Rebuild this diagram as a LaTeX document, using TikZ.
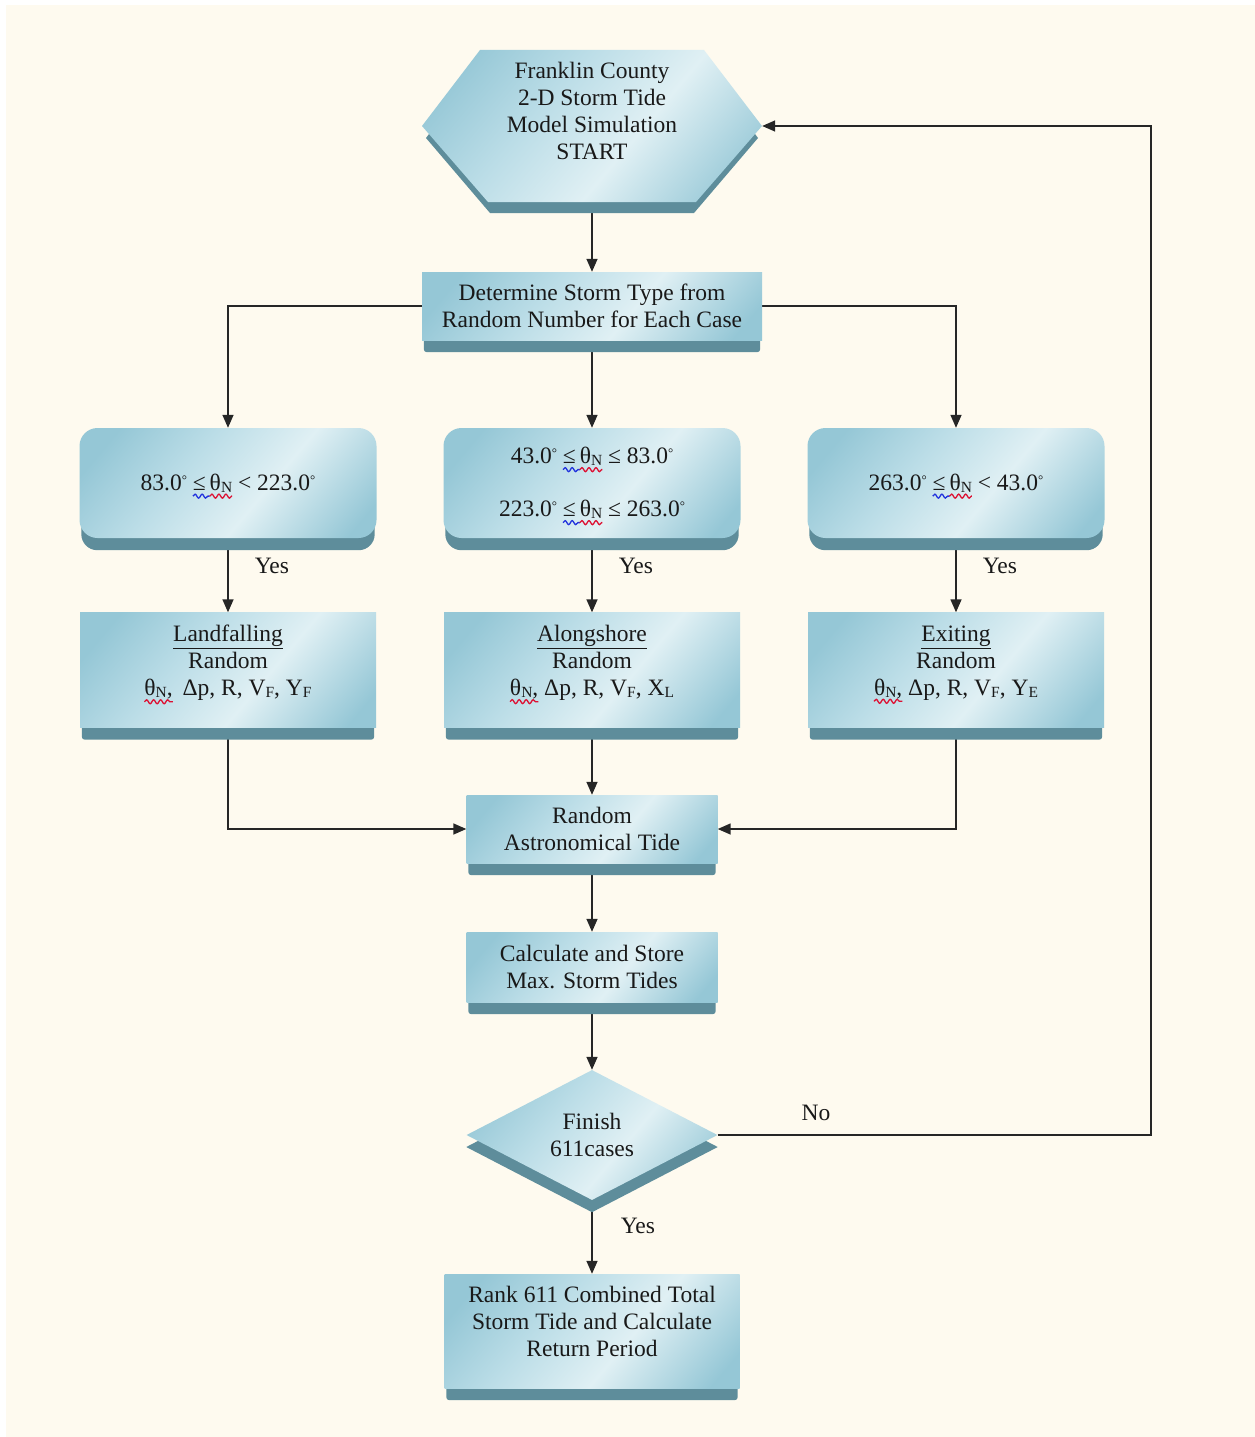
\documentclass[tikz,border=0pt]{standalone}
\usepackage{fontspec}
\setmainfont{Liberation Serif}
\usetikzlibrary{arrows.meta,shapes.geometric,calc,decorations.pathmorphing}
\pgfdeclarelayer{back}
\pgfdeclarelayer{lines}
\pgfdeclarelayer{ext}
\pgfsetlayers{back,lines,ext,main}
\definecolor{bgc}{HTML}{FEFAEF}
\definecolor{bDark}{HTML}{95C7D6}
\definecolor{bMid}{HTML}{BBDDE7}
\definecolor{bLight}{HTML}{E0F0F4}
\definecolor{extc}{HTML}{5E8D9B}
\definecolor{wblue}{HTML}{2233DD}
\definecolor{wred}{HTML}{DD1133}
\pgfdeclarehorizontalshading{boxsh}{100bp}{color(0bp)=(bDark); color(22bp)=(bDark); color(40bp)=(bMid); color(58bp)=(bLight); color(80bp)=(bDark); color(100bp)=(bDark)}
\newsavebox\wvbox
\newlength\wvlen
\newcommand\wave[2]{\sbox\wvbox{#2}\setlength\wvlen{\wd\wvbox}\leavevmode\rlap{\raisebox{-6pt}[0pt][0pt]{\tikz[x=1pt,y=1pt,sharp corners]{\useasboundingbox (0,0); \draw[#1, sharp corners, line width=1.3pt, decorate, decoration={snake, amplitude=2pt, segment length=7pt}] (0,0) -- (\wvlen,0);}}}\usebox\wvbox}
\newcommand\lsub[1]{\raisebox{-0.2ex}{\fontsize{15.5}{15.5}\selectfont #1}}
\newcommand\thN{θ\lsub{N}}
\newcommand\dg{\raisebox{0.55ex}{\fontsize{13}{13}\selectfont °}}
\newcommand\extrude[2]{\begin{pgfonlayer}{ext}\fill[extc, rounded corners=#2] ($(#1.north west)+(2,12)$) rectangle ($(#1.south east)+(-2,12)$);\end{pgfonlayer}}
\begin{document}
\begin{tikzpicture}[x=1pt,y=-1pt,
  every node/.style={font=\fontsize{23.5}{27}\selectfont, text=black!90},
  front/.style={shade, shading=boxsh, shading angle=-40, inner sep=0, align=center},
  rbox/.style={front, rectangle, minimum height=#1},
  rbox/.default=68,
  ubox/.style={front, rectangle, rounded corners=18, minimum width=297, minimum height=110},
  txt/.style={inner sep=0, align=center},
  yes/.style={anchor=west, inner sep=0, xshift=26pt},
  conn/.style={line width=1.5pt, draw=black!85},
  arr/.style={conn, -{Triangle[length=13pt,width=11pt]}}]
\useasboundingbox (0,0) rectangle (1255,1437);
\begin{pgfonlayer}{back}
\fill[white] (0,0) rectangle (1255,1437);
\fill[bgc] (6,5) rectangle (1255,1437);
\end{pgfonlayer}

% start hexagon
\begin{pgfonlayer}{ext}
\fill[extc] (484,61) -- (700,61) -- (758,138) -- (694,213) -- (490,213) -- (426,138) -- cycle;
\end{pgfonlayer}
\shade[shading=boxsh, shading angle=-40] (480,50) -- (704,50) -- (762,126) -- (696,202) -- (488,202) -- (422,126) -- cycle;
\node[inner sep=0, minimum width=340, minimum height=152] (start) at (592,126) {};
\node[txt] (starttxt) at (592,111) {Franklin County\\2-D Storm Tide\\Model Simulation\\START};

% determine
\node[rbox, minimum width=340] (det) at (592,306) {Determine Storm Type from\\Random Number for Each Case};
\extrude{det}{3}

% decision boxes
\node[ubox] (dl) at (228,483) {83.0\dg{} \wave{wblue}{≤\,}\wave{wred}{\thN} < 223.0\dg};
\node[ubox] (dm) at (592,483) {43.0\dg{} \wave{wblue}{≤\,}\wave{wred}{\thN} ≤ 83.0\dg\\[26pt]223.0\dg{} \wave{wblue}{≤\,}\wave{wred}{\thN} ≤ 263.0\dg};
\node[ubox] (dr) at (956,483) {263.0\dg{} \wave{wblue}{≤\,}\wave{wred}{\thN} < 43.0\dg};
\extrude{dl}{16}
\extrude{dm}{16}
\extrude{dr}{16}

% random boxes
\node[rbox=115, minimum width=296] (rl) at (228,670) {\underline{Landfalling}\\Random\\\wave{wred}{\thN,}\, Δp, R, V\lsub{F}, Y\lsub{F}\\[-8pt]};
\node[rbox=115, minimum width=296] (rm) at (592,670) {\underline{Alongshore}\\Random\\\wave{wred}{\thN,} Δp, R, V\lsub{F}, X\lsub{L}\\[-8pt]};
\node[rbox=115, minimum width=296] (rr) at (956,670) {\underline{Exiting}\\Random\\\wave{wred}{\thN,} Δp, R, V\lsub{F}, Y\lsub{E}\\[-8pt]};
\extrude{rl}{3}
\extrude{rm}{3}
\extrude{rr}{3}

% astro, calc
\node[rbox, minimum width=251] (astro) at (592,829) {Random\\Astronomical Tide};
\extrude{astro}{3}
\node[rbox=70, minimum width=251] (calc) at (592,967) {Calculate and Store\\Max. Storm Tides};
\extrude{calc}{3}

% diamond
\node[front, diamond, aspect=1.9, minimum width=251, minimum height=130] (fin) at (592,1135) {Finish\\611cases};
\begin{pgfonlayer}{ext}
\fill[extc] ($(fin.north)+(0,12)$) -- ($(fin.east)+(0,12)$) -- ($(fin.south)+(0,12)$) -- ($(fin.west)+(0,12)$) -- cycle;
\end{pgfonlayer}

% rank
\node[rbox=114, minimum width=295] (rank) at (592,1331) {Rank 611 Combined Total\\Storm Tide and Calculate\\Return Period\\[-8pt]};
\extrude{rank}{3}

\node[txt] (no) at (816,1113) {No};
\coordinate (loopc) at (1151,126);

\begin{pgfonlayer}{lines}
\draw[arr] (start.south) -- (det.north);
\draw[arr] (det.west) -| (dl.north);
\draw[arr] (det.east) -| (dr.north);
\draw[arr] (det.south) -- (dm.north);
\draw[arr] (dl.south) -- node[yes, pos=0.37] (y1) {Yes} (rl.north);
\draw[arr] (dm.south) -- node[yes, pos=0.37] (y2) {Yes} (rm.north);
\draw[arr] (dr.south) -- node[yes, pos=0.37] (y3) {Yes} (rr.north);
\draw[arr] (rl.south) |- (astro.west);
\draw[arr] (rm.south) -- (astro.north);
\draw[arr] (rr.south) |- (astro.east);
\draw[arr] (astro.south) -- (calc.north);
\draw[arr] (calc.south) -- (fin.north);
\draw[arr] (fin.south) -- node[yes, pos=0.35, xshift=2pt] (y4) {Yes} (rank.north);
\draw[arr] (fin.east) -| (loopc) -- (start.east);
\end{pgfonlayer}
\end{tikzpicture}
\end{document}
